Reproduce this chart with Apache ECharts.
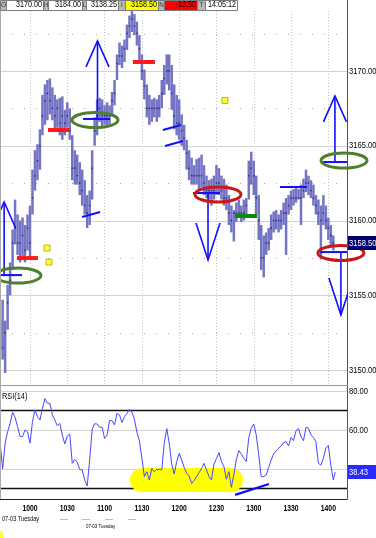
<!DOCTYPE html>
<html><head><meta charset="utf-8">
<script src="https://cdn.jsdelivr.net/npm/echarts@6/dist/echarts.min.js"></script>
<style>html,body{margin:0;padding:0;background:#fff}#c{width:376px;height:538px}</style>
</head><body><div id="c"></div>
<script>
// ---------- data ----------
const times = [
576,578,580,582,584,586,588,590,592,594,596,598,600,602,604,
606,608,610,612,614,616,618,620,622,624,626,628,630,632,634,
636,638,640,642,644,646,648,650,652,654,656,658,660,662,664,
666,668,670,672,674,676,678,680,682,684,686,688,690,692,694,
696,698,700,702,704,706,708,710,712,714,716,718,720,722,724,
726,728,730,732,734,736,738,740,742,744,746,748,750,752,754,
756,758,760,762,764,766,768,770,772,774,776,778,780,782,784,
786,788,790,792,794,796,798,800,802,804,806,808,810,812,814,
816,818,820,822,824,826,828,830,832,834,836,838,840,842,844];
const highs = [
3153.3,3154.7,3153.3,3155.7,3157.2,3159.4,3161.4,3160.4,3160.0,3160.2,3159.7,3160.4,3161.0,3163.4,3164.7,
3165.1,3166.1,3168.4,3169.1,3169.4,3169.5,3168.9,3168.4,3168.1,3168.2,3168.3,3167.4,3167.9,3167.5,3165.7,
3164.7,3164.4,3163.9,3163.4,3162.7,3161.7,3162.0,3164.7,3166.9,3168.1,3168.2,3168.1,3167.7,3167.9,3167.7,
3168.6,3169.4,3171.1,3171.9,3171.7,3172.1,3173.1,3173.7,3174.0,3173.8,3173.3,3172.4,3171.1,3170.1,3169.1,
3168.4,3168.1,3168.2,3168.1,3168.4,3169.4,3170.4,3171.1,3171.1,3170.4,3169.1,3168.4,3168.1,3167.1,3166.4,
3165.4,3164.7,3164.2,3163.7,3164.1,3164.2,3164.4,3163.7,3163.0,3162.7,3162.8,3163.0,3163.7,3163.5,3163.0,
3162.8,3162.4,3161.7,3161.0,3160.7,3161.2,3161.4,3161.0,3161.4,3161.5,3164.0,3164.6,3164.0,3163.0,3161.7,
3159.7,3159.0,3159.2,3159.5,3160.4,3160.6,3160.7,3160.4,3160.7,3161.2,3161.5,3161.7,3162.0,3162.1,3162.3,
3162.1,3162.4,3162.8,3163.4,3163.0,3162.7,3162.4,3161.7,3161.4,3161.0,3161.7,3161.0,3160.2,3159.7,3159.0];
const lows = [
3151.3,3150.7,3149.8,3152.7,3155.0,3156.7,3158.4,3157.7,3157.2,3157.5,3157.2,3158.0,3157.4,3160.4,3162.0,
3162.7,3163.4,3165.7,3166.4,3166.7,3167.1,3166.7,3166.1,3166.2,3165.7,3165.4,3165.7,3166.2,3165.4,3162.7,
3162.4,3162.4,3161.7,3161.0,3160.4,3159.5,3159.7,3161.4,3165.0,3165.7,3166.6,3166.2,3166.4,3166.3,3166.4,
3167.1,3167.7,3169.4,3170.4,3170.2,3170.6,3171.4,3172.2,3172.6,3172.4,3171.7,3170.6,3169.4,3168.1,3166.9,
3166.4,3166.6,3166.9,3166.6,3166.9,3167.5,3168.4,3169.1,3168.7,3167.4,3166.1,3165.7,3165.4,3165.0,3164.7,
3163.4,3162.7,3162.4,3162.4,3162.4,3162.0,3162.2,3161.7,3161.5,3161.4,3161.0,3161.4,3161.7,3161.7,3161.4,
3161.0,3160.7,3159.7,3159.2,3158.6,3159.9,3160.2,3159.9,3160.0,3160.2,3161.4,3162.4,3161.7,3160.4,3158.7,
3156.7,3156.2,3157.7,3158.0,3158.7,3159.2,3159.4,3159.2,3159.4,3159.7,3157.7,3160.4,3160.7,3161.0,3161.2,
3161.4,3159.7,3161.5,3161.9,3161.7,3161.5,3161.0,3160.4,3159.7,3157.4,3159.7,3159.4,3158.7,3158.2,3158.0];
const closes = [
3152.0,3151.5,3152.5,3154.5,3156.0,3158.5,3159.5,3158.5,3158.5,3159.0,3158.0,3159.5,3158.5,3161.5,3163.0,
3164.0,3165.0,3167.0,3168.0,3168.5,3168.0,3167.5,3167.0,3167.5,3166.5,3167.0,3166.5,3167.0,3166.0,3163.5,
3163.5,3163.0,3162.5,3162.0,3161.0,3160.5,3161.0,3163.5,3166.0,3167.0,3167.5,3167.0,3167.0,3167.0,3167.0,
3168.0,3168.5,3170.5,3171.0,3171.0,3171.5,3172.5,3173.0,3173.5,3173.0,3172.5,3171.5,3170.0,3169.0,3167.5,
3167.5,3167.5,3167.5,3167.5,3167.5,3168.5,3169.5,3170.0,3170.0,3168.5,3167.0,3166.5,3166.5,3166.0,3165.5,
3164.5,3163.5,3163.0,3163.0,3163.0,3163.0,3163.0,3162.5,3162.0,3162.0,3162.0,3162.0,3162.5,3162.5,3162.0,
3161.5,3161.5,3160.5,3160.0,3160.5,3160.5,3160.5,3160.5,3160.5,3161.0,3163.0,3163.5,3163.0,3161.5,3160.0,
3157.5,3157.5,3158.5,3158.5,3159.5,3160.0,3160.0,3160.0,3160.0,3160.5,3160.5,3161.0,3161.5,3161.5,3161.5,
3161.5,3161.5,3162.0,3162.5,3162.5,3162.0,3161.5,3161.0,3160.5,3160.0,3160.5,3160.0,3159.5,3159.0,3158.5];
const rsi = [
53.2,40.0,53.2,59.1,63.4,69.1,66.5,61.7,56.6,56.6,60.0,59.1,53.2,64.3,70.3,
66.8,65.1,71.1,76.1,73.7,73.7,67.7,65.1,62.1,63.4,57.4,52.8,56.9,57.9,42.9,
44.9,43.4,39.8,39.5,34.4,31.3,44.6,60.3,63.2,63.1,61.4,61.4,55.7,57.4,64.8,
64.8,62.6,68.5,67.7,63.8,66.8,68.5,70.6,69.1,65.5,58.8,54.5,45.5,36.1,38.6,
34.4,40.3,38.6,39.8,39.8,39.5,53.2,60.7,53.2,42.6,37.4,43.8,48.0,44.6,40.8,
37.8,36.4,32.6,34.0,36.1,38.1,40.3,42.9,39.5,36.1,34.4,42.6,45.3,48.4,43.8,
41.2,34.7,38.6,30.6,36.9,44.9,49.4,47.7,45.5,43.8,56.2,60.9,63.1,57.4,47.2,
36.1,36.1,36.9,40.8,44.6,47.7,49.2,50.6,51.8,53.5,54.0,51.8,56.2,54.5,59.6,
60.7,56.6,54.5,61.4,60.9,57.4,56.2,54.0,42.9,42.0,45.5,50.6,52.1,42.0,34.4];
const rsiNowTime = 845.5;
const rsiNow = 38.43;
const lastPrice = 3158.5;

const timeTicks = [600, 630, 660, 690, 720, 750, 780, 810, 840];
const timeTickLabels = ['1000','1030','1100','1130','1200','1230','1300','1330','1400'];
const priceLabels = [3150, 3155, 3160, 3165, 3170];
const priceDotted = [3152.5, 3157.5, 3162.5, 3167.5, 3172.5];
const rsiLabels = [60, 80];
const rsiBlackLevels = [70, 30];
const rsiGrayLevels = [40, 60, 80];

// annotations (time in minutes of day, price)
const blueSegments = [
  [575.9,3156.35,593.6,3156.35],[642.7,3166.79,664.3,3166.79],[731.1,3161.84,752.8,3161.84],
  [801.1,3162.24,822.8,3162.24],[835.7,3163.91,855,3163.91],[833.3,3157.89,855,3157.89],
  [641.9,3160.23,656.3,3160.57],[706.9,3166.05,721.4,3166.39],[708.6,3164.98,723.0,3165.32]];
const redMarks = [[589.5,606.4,3157.49],[614.5,632.2,3166.05],[682.8,700.5,3170.60]];
const greenMarks = [[765.0,782.6,3160.30]];
const arrows = [[579.2,3156.35,3161.24],[654.3,3166.79,3172.01],[743.2,3161.84,3157.36],[845.3,3163.91,3168.33],[850.1,3157.89,3153.68]];
const yellowMarks = [[613.7,3158.16],[615.3,3157.22],[756.8,3168.03]];
const greenRings = [[590.3,3156.32],[652.3,3166.72],[852.6,3164.01]];
const redRings = [[751.2,3161.74],[850.1,3157.83]];
const rsiBand = [[680.4,771.3,28.2,40.5]];
const rsiTrend = [[765.0,26.7],[792.2,32.3]];

const headerCells = [
  {tag:'O', value:'3170.00', fill:'#ffffff'},
  {tag:'H', value:'3184.00', fill:'#ffffff'},
  {tag:'L', value:'3138.25', fill:'#ffffff'},
  {tag:'I', value:'3158.50', fill:'#ffff00'},
  {tag:'N', value:'-13.50', fill:'#ff0000'},
  {tag:'T', value:'14:05:12', fill:'#ffffff'}
];
const dateLabel = '07-03 Tuesday';

// ---------- layout / style ----------
const FONT = "'Liberation Sans',Arial,sans-serif";
const NARROW = 0.8;
const headerLayout = [[0,6,6,37],[43,5,48,34],[82,4,86,32],[118,7,125,33],[158,6,164,33],[197,8,205,32]];

const graphics = [];
headerCells.forEach((c,i)=>{
  const L = headerLayout[i];
  graphics.push({type:'rect', z:100, shape:{x:L[0]+0.5,y:0.5,width:L[1],height:10}, style:{fill:'#b8b8b8',stroke:'#7a7a7a',lineWidth:1}});
  graphics.push({type:'text', z:101, x:L[0]+L[1]/2+0.5, y:5, scaleX:NARROW, style:{text:c.tag,fontSize:8,fontFamily:FONT,fill:'#333',align:'center',verticalAlign:'middle'}});
  graphics.push({type:'rect', z:100, shape:{x:L[2]+0.5,y:0.5,width:L[3],height:10}, style:{fill:c.fill,stroke:'#7a7a7a',lineWidth:1}});
  graphics.push({type:'text', z:101, x:L[2]+L[3]-1, y:5, scaleX:NARROW, style:{text:c.value,fontSize:9,fontFamily:FONT,fill:'#000',align:'right',verticalAlign:'middle'}});
});
graphics.push({type:'line', z:100, shape:{x1:347.5,y1:0,x2:347.5,y2:11}, style:{stroke:'#555',lineWidth:1}});
graphics.push({type:'line', z:100, shape:{x1:0.5,y1:11,x2:0.5,y2:499}, style:{stroke:'#aaa',lineWidth:1}});
graphics.push({type:'text', z:100, x:2, y:397, scaleX:0.82, style:{text:'RSI(14)',fontSize:9,fontFamily:FONT,fill:'#000',verticalAlign:'middle'}});
graphics.push({type:'text', z:100, x:2, y:519, scaleX:NARROW, style:{text:dateLabel,fontSize:7,fontFamily:FONT,fill:'#000',verticalAlign:'middle'}});
[60,82,105,128].forEach(x=>graphics.push({type:'text', z:100, x:x, y:519, style:{text:'----',fontSize:6,fontFamily:FONT,fill:'#555',verticalAlign:'middle'}}));
graphics.push({type:'text', z:100, x:86, y:526, scaleX:NARROW, style:{text:dateLabel,fontSize:5.5,fontFamily:FONT,fill:'#000',verticalAlign:'middle'}});
graphics.push({type:'rect', z:100, shape:{x:0,y:531,width:3,height:7}, style:{fill:'#ffff40'}});

function hLevelSeries(gridIdx, levels, style, z){
  return {type:'custom', xAxisIndex:gridIdx, yAxisIndex:gridIdx, z:z, silent:true, clip:false,
    data: levels.map(v=>[600, v]),
    renderItem:(params, api)=>{
      const cs = params.coordSys;
      const y = Math.round(api.coord([600, api.value(1)])[1]) + 0.5;
      return {type:'line', shape:{x1:Math.max(cs.x,0), y1:y, x2:cs.x+cs.width, y2:y}, style:Object.assign({fill:null}, style)};
    }};
}
function yLabelSeries(gridIdx, values){
  return {type:'custom', xAxisIndex:gridIdx, yAxisIndex:gridIdx, z:20, silent:true, clip:false,
    data: values.map(v=>[600, v]),
    renderItem:(params, api)=>{
      const cs = params.coordSys;
      const y = api.coord([600, api.value(1)])[1];
      return {type:'text', x:cs.x+cs.width+2, y:y, scaleX:NARROW,
        style:{text:api.value(1).toFixed(2), fill:'#000', fontSize:9.5, fontFamily:FONT, align:'left', verticalAlign:'middle'}};
    }};
}
function xLabelSeries(gridIdx){
  return {type:'custom', xAxisIndex:gridIdx, yAxisIndex:gridIdx, z:20, silent:true, clip:false,
    data: timeTicks.map((t,i)=>[t, 50, i]),
    renderItem:(params, api)=>{
      const cs = params.coordSys;
      const x = api.coord([api.value(0), 50])[0];
      return {type:'text', x:x, y:cs.y+cs.height+9, scaleX:0.72,
        style:{text:timeTickLabels[api.value(2)], fill:'#000', fontSize:9.5, fontWeight:'bold', fontFamily:FONT, align:'center', verticalAlign:'middle'}};
    }};
}
function segSeries(data, color, width, z){
  return {type:'custom', xAxisIndex:0, yAxisIndex:0, z:z, silent:true, clip:true, data:data,
    renderItem:(params, api)=>{
      let a, b;
      if (data[0].length === 3) { a = api.coord([api.value(0), api.value(2)]); b = api.coord([api.value(1), api.value(2)]); }
      else { a = api.coord([api.value(0), api.value(1)]); b = api.coord([api.value(2), api.value(3)]); }
      return {type:'line', shape:{x1:a[0],y1:a[1],x2:b[0],y2:b[1]}, style:{stroke:color,lineWidth:width,fill:null}};
    }};
}
function ringSeries(data, color){
  return {type:'custom', xAxisIndex:0, yAxisIndex:0, z:8, silent:true, clip:false, data:data,
    renderItem:(params, api)=>{
      const p = api.coord([api.value(0), api.value(1)]);
      return {type:'ellipse', shape:{cx:p[0], cy:p[1], rx:23, ry:7.5}, style:{fill:'transparent', stroke:color, lineWidth:3}};
    }};
}
function tagSeries(gridIdx, t, v, bg, text){
  return {type:'custom', xAxisIndex:gridIdx, yAxisIndex:gridIdx, z:20, silent:true, clip:false, data:[[t, v]],
    renderItem:(params, api)=>{
      const cs = params.coordSys;
      const p = api.coord([api.value(0), api.value(1)]);
      const x = cs.x + cs.width + 1;
      return {type:'group', children:[
        {type:'rect', shape:{x:x, y:Math.round(p[1])-7, width:30, height:14}, style:{fill:bg}},
        {type:'text', x:x+1, y:Math.round(p[1]), scaleX:NARROW, style:{text:text, fill:'#fff', fontSize:9.5, fontFamily:FONT, align:'left', verticalAlign:'middle'}}
      ]};
    }};
}

const barData = times.map((t,i)=>[t, lows[i], highs[i]]);
const closeData = times.map((t,i)=>[t, closes[i]]);
const rsiData = times.map((t,i)=>[t, rsi[i]]).concat([[rsiNowTime, rsiNow]]);

const option = {
  animation:false,
  backgroundColor:'#ffffff',
  textStyle:{fontFamily:FONT},
  grid:[
    {left:-7.3, right:29, top:11, height:374, outerBoundsMode:'none', containLabel:false},
    {left:-7.3, right:29, top:386, height:113, outerBoundsMode:'none', containLabel:false}
  ],
  xAxis:[
    {gridIndex:0, type:'value', min:570, max:855, interval:30,
      axisLabel:{show:false}, axisTick:{show:false},
      axisLine:{show:true, onZero:false, lineStyle:{color:'#999'}},
      splitLine:{show:true, lineStyle:{color:'#c4c4c4', type:[1,2]}}},
    {gridIndex:1, type:'value', min:570, max:855, interval:30,
      axisTick:{show:false}, splitLine:{show:false}, axisLabel:{show:false},
      axisLine:{show:true, onZero:false, lineStyle:{color:'#222'}}}
  ],
  yAxis:[
    {gridIndex:0, type:'value', position:'right', min:3149.0, max:3174.01,
      axisLine:{show:true, lineStyle:{color:'#555'}}, axisTick:{show:false}, splitLine:{show:false}, axisLabel:{show:false}},
    {gridIndex:1, type:'value', position:'right', min:24.6, max:82.56,
      axisLine:{show:true, lineStyle:{color:'#555'}}, axisTick:{show:false}, splitLine:{show:false}, axisLabel:{show:false}}
  ],
  graphic:graphics,
  series:[
    hLevelSeries(0, priceLabels, {stroke:'#d2d2d2', lineWidth:1}, 1),
    hLevelSeries(0, priceDotted, {stroke:'#a8a8a8', lineWidth:1, lineDash:[1,11]}, 1),
    hLevelSeries(1, rsiGrayLevels, {stroke:'#d2d2d2', lineWidth:1}, 1),
    hLevelSeries(1, rsiBlackLevels, {stroke:'#111', lineWidth:1.5}, 2),
    yLabelSeries(0, priceLabels),
    yLabelSeries(1, rsiLabels),
    xLabelSeries(1),
    {type:'custom', xAxisIndex:1, yAxisIndex:1, z:2, silent:true, clip:true, data:rsiBand,
      renderItem:(params, api)=>{
        const a = api.coord([api.value(0), api.value(3)]);
        const b = api.coord([api.value(1), api.value(2)]);
        const h = b[1]-a[1];
        return {type:'rect', shape:{x:a[0], y:a[1], width:b[0]-a[0], height:h, r:h/2}, style:{fill:'#ffff00'}};
      }},
    {type:'custom', xAxisIndex:0, yAxisIndex:0, z:3, silent:true, clip:true, data:barData,
      renderItem:(params, api)=>{
        const lo = api.coord([api.value(0), api.value(1)]);
        const hi = api.coord([api.value(0), api.value(2)]);
        return {type:'rect', shape:{x:lo[0]-1.25, y:hi[1], width:2.5, height:Math.max(1, lo[1]-hi[1])}, style:{fill:'#7474c4'}};
      }},
    {type:'scatter', xAxisIndex:0, yAxisIndex:0, z:4, silent:true, data:closeData, symbol:'rect', symbolSize:1.5,
      itemStyle:{color:'#1c1c70'}},
    segSeries(redMarks, '#ff1a1a', 4, 5),
    segSeries(greenMarks, '#0a8a0a', 4, 5),
    segSeries(blueSegments, '#1010ff', 2, 6),
    {type:'custom', xAxisIndex:0, yAxisIndex:0, z:6, silent:true, clip:true, data:arrows,
      renderItem:(params, api)=>{
        const b = api.coord([api.value(0), api.value(1)]);
        const a = api.coord([api.value(0), api.value(2)]);
        const up = a[1] < b[1];
        const dx = up ? 11.5 : 12, dy = up ? 26 : -37;
        return {type:'group', children:[
          {type:'line', shape:{x1:b[0],y1:b[1],x2:a[0],y2:a[1]}, style:{stroke:'#1010ff', lineWidth:1.6, fill:null}},
          {type:'polyline', shape:{points:[[a[0]-dx, a[1]+dy],[a[0],a[1]],[a[0]+dx, a[1]+dy]]}, style:{stroke:'#1010ff', lineWidth:1.6, fill:null}}
        ]};
      }},
    {type:'scatter', xAxisIndex:0, yAxisIndex:0, z:6, silent:true, data:yellowMarks, symbol:'rect', symbolSize:6,
      itemStyle:{color:'#ffff00', borderColor:'#a8a800', borderWidth:1}},
    ringSeries(greenRings, '#4f7f2c'),
    ringSeries(redRings, '#c81818'),
    {type:'line', xAxisIndex:1, yAxisIndex:1, z:5, silent:true, data:rsiData, showSymbol:false,
      lineStyle:{color:'#4646ff', width:1}},
    {type:'line', xAxisIndex:1, yAxisIndex:1, z:6, silent:true, data:rsiTrend, showSymbol:false,
      lineStyle:{color:'#1010ff', width:2.2}},
    tagSeries(0, 855, lastPrice, '#00006e', lastPrice.toFixed(2)),
    tagSeries(1, 855, rsiNow, '#2a2aff', rsiNow.toFixed(2))
  ]
};
const chart = echarts.init(document.getElementById('c'), null, {renderer:'canvas'});
chart.setOption(option);
</script>
</body></html>
